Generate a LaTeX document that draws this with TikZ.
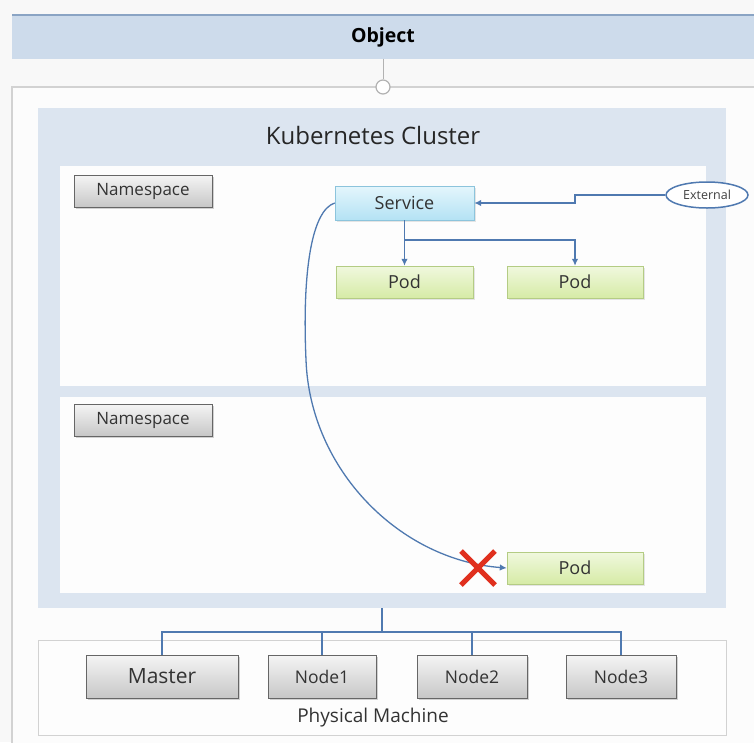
\documentclass[tikz,border=0pt]{standalone}
\usepackage{fontspec}
\setmainfont{Open Sans}
\usetikzlibrary{arrows.meta,shapes.geometric,shadows}

\definecolor{pagebg}{HTML}{F8F8F8}
\definecolor{barblue}{HTML}{CDDBEB}
\definecolor{barline}{HTML}{8AA4C4}
\definecolor{framegray}{HTML}{D2D2D2}
\definecolor{clusterbg}{HTML}{DCE5F0}
\definecolor{linkblue}{HTML}{4F79B0}
\definecolor{crossred}{HTML}{E0301E}
\definecolor{svctop}{HTML}{E4F6FC}
\definecolor{svcbot}{HTML}{B4E2F4}
\definecolor{svcline}{HTML}{8CC4DC}
\definecolor{podtop}{HTML}{F0F8DE}
\definecolor{podbot}{HTML}{D6EBA6}
\definecolor{podline}{HTML}{B4CC84}

\tikzset{
  txt/.style={font=\fontsize{#1}{#1}\selectfont},
  graybox/.style={draw=black!60, top color=black!4, bottom color=black!22,
    drop shadow={shadow xshift=1.5pt, shadow yshift=-1.5pt, opacity=0.35},
    text=black!80, inner sep=0pt},
  svcbox/.style={draw=svcline, top color=svctop, bottom color=svcbot,
    drop shadow={shadow xshift=1.5pt, shadow yshift=-1.5pt, opacity=0.2},
    text=black!80, inner sep=0pt, minimum width=139, minimum height=34, txt=18},
  podbox/.style={draw=podline, top color=podtop, bottom color=podbot,
    drop shadow={shadow xshift=1.5pt, shadow yshift=-1.5pt, opacity=0.2},
    text=black!80, inner sep=0pt, minimum width=137, minimum height=32, txt=18},
  link/.style={draw=linkblue, line width=1.3pt},
  tip/.style={-{Latex[length=7pt,width=6.5pt]}}
}

\begin{document}
\begin{tikzpicture}[x=1pt,y=-1pt]
\useasboundingbox (0,0) rectangle (754,742);
\clip (0,0) rectangle (754,742);
\fill[pagebg] (0,0) rectangle (754,742);

\node[fill=barblue, minimum width=742, minimum height=43, inner sep=0pt,
  font=\bfseries\fontsize{19.5}{19.5}\selectfont] (obj) at (383,37) {Object};
\path[draw=barline, line width=2pt] (12,15) -- (754,15);

\path[draw=framegray, line width=1.5pt, fill=white!60!pagebg] (12,87) rectangle (760,760);
\node[draw=black!30, line width=1.2pt, fill=white, circle, minimum size=14, inner sep=0pt] (conn) at (383,87) {};
\path[draw=black!30, line width=1pt] (obj.south) -- (conn.north);

\node[fill=clusterbg, minimum width=688, minimum height=500, inner sep=0pt] (cluster) at (382,358) {};
\node[txt=24, text=black!85] (title) at (373,135) {Kubernetes Cluster};
\path[fill=white!70!pagebg] (60,166) rectangle (706,386);
\path[fill=white!70!pagebg] (60,397) rectangle (706,593);

\node[graybox, minimum width=138, minimum height=32, txt=17] (ns1) at (143,191) {Namespace};
\node[graybox, minimum width=138, minimum height=32, txt=17] (ns2) at (143,420) {Namespace};

\node[svcbox] (svc) at (404.5,203) {Service};
\node[podbox] (pod1) at (404.5,282) {Pod};
\node[podbox, minimum width=136] (pod2) at (575,282) {Pod};
\node[podbox, minimum width=136] (pod3) at (575,568) {Pod};
\node[draw=linkblue, line width=1.5pt, fill=white, ellipse, minimum width=82, minimum height=26,
  inner sep=0pt, txt=12.5, text=black!75] (ext) at (707,195) {External};

\coordinate (extbend) at (575,195);
\coordinate (fork) at (404.5,240);
\coordinate (swing) at (306,360);
\path[link,tip] (ext.west) -- (extbend) |- (svc.east);
\path[link,tip] (svc.south) -- (pod1.north);
\path[link,tip] (fork) -| (pod2.north);
\path[link,tip] (svc.west) .. controls (312,210) and (302,270) .. (swing)
  .. controls (310,470) and (400,560) .. (pod3.west);

\coordinate (cross) at (478,568);
\path[draw=crossred, line width=5pt] ([shift={(-17,-17)}]cross) -- ([shift={(17,17)}]cross);
\path[draw=crossred, line width=5pt] ([shift={(-17,17)}]cross) -- ([shift={(17,-17)}]cross);

\path[draw=framegray, line width=1pt, fill=white!70!pagebg] (38,640) rectangle (726,735);
\node[graybox, minimum width=152, minimum height=43, txt=21] (master) at (162,676.5) {Master};
\node[graybox, minimum width=108, minimum height=43, txt=17.5] (node1) at (322,676.5) {Node1};
\node[graybox, minimum width=110, minimum height=43, txt=17.5] (node2) at (472,676.5) {Node2};
\node[graybox, minimum width=110, minimum height=43, txt=17.5] (node3) at (621,676.5) {Node3};
\node[txt=19, text=black!80] (phys) at (373,718) {Physical Machine};

\coordinate (bus) at (382,632);
\path[link] (cluster.south) -- (bus);
\foreach \n in {master,node1,node2,node3}
  \path[link] (bus) -| (\n.north);
\end{tikzpicture}
\end{document}
